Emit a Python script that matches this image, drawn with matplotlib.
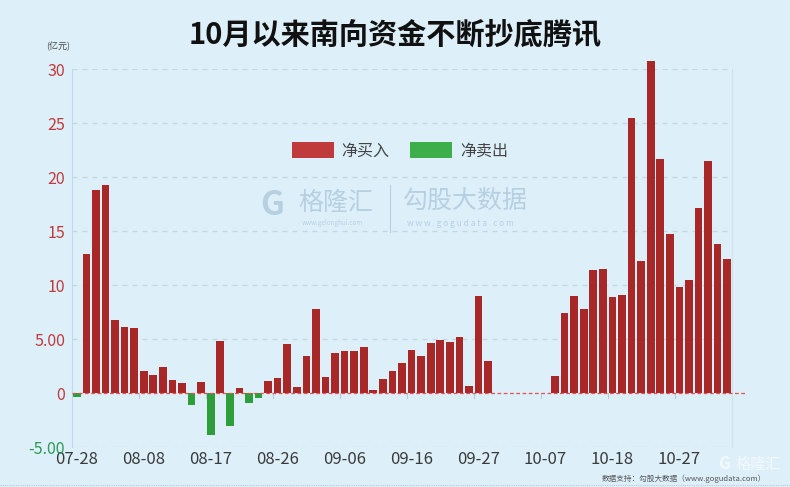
import matplotlib
matplotlib.use("Agg")
import matplotlib.pyplot as plt
from matplotlib.patches import Patch

plt.rcParams["font.family"] = ["Noto Sans CJK SC", "DejaVu Sans"]

#
# Data (亿元, southbound net flow into Tencent)
#

dates = [
    "07-28", "07-29", "08-01", "08-02", "08-03", "08-04", "08-05",
    "08-08", "08-09", "08-10", "08-11", "08-12", "08-15", "08-16",
    "08-17", "08-18", "08-19", "08-22", "08-23", "08-24", "08-25",
    "08-26", "08-29", "08-30", "08-31", "09-01", "09-02", "09-05",
    "09-06", "09-07", "09-08", "09-09", "09-13", "09-14", "09-15",
    "09-16", "09-19", "09-20", "09-21", "09-22", "09-23", "09-26",
    "09-27", "09-28", "09-29", "09-30", "10-03", "10-05", "10-06",
    "10-07", "10-10", "10-11", "10-12", "10-13", "10-14", "10-17",
    "10-18", "10-19", "10-20", "10-21", "10-24", "10-25", "10-26",
    "10-27", "10-28", "10-31", "11-01", "11-02", "11-03",
]
net_flow = [
    -0.35, 12.9, 18.8, 19.3, 6.8, 6.1, 6.0,
    2.0, 1.65, 2.4, 1.25, 0.95, -1.15, 1.05,
    -3.85, 4.8, -3.1, 0.45, -0.9, -0.45, 1.1,
    1.4, 4.55, 0.55, 3.4, 7.8, 1.5, 3.7,
    3.85, 3.85, 4.3, 0.3, 1.3, 2.0, 2.8,
    4.0, 3.4, 4.65, 4.9, 4.7, 5.2, 0.65,
    9.0, 3.0, 0, 0, 0, 0, 0,
    0, 1.6, 7.4, 8.95, 7.75, 11.4, 11.5,
    8.85, 9.1, 25.5, 12.2, 30.7, 21.7, 14.7,
    9.85, 10.5, 17.1, 21.5, 13.8, 12.4,
]
tick_every = 7
y_ticks = [-5, 0, 5, 10, 15, 20, 25, 30]
y_labels = ["-5.00", "0", "5.00", "10", "15", "20", "25", "30"]

bg = "#ddf0fa"
red = "#a82828"
green = "#2e9e3c"
label_red = "#c0393b"
label_green = "#2a9a55"

#
# Graph
#

fig = plt.figure(figsize=(7.9, 4.87), dpi=100, facecolor=bg)
ax = fig.add_axes([72 / 790, 1 - 447 / 487, 660 / 790, 378 / 487])
ax.set_facecolor(bg)

x = list(range(len(dates)))
colors = [red if v >= 0 else green for v in net_flow]
ax.bar(x, net_flow, width=0.8, color=colors, zorder=3, clip_on=False)

ax.set_xlim(-0.5, len(dates) - 0.5)
ax.set_ylim(-5, 30)

# grid
for yv in y_ticks:
    if yv != 0:
        ax.axhline(yv, color="#c5d5e2", lw=0.9, ls=(0, (4, 4)), zorder=1)
ax.plot([-0.5, len(dates) + 1.0], [0, 0], color="#e8504f", lw=0.9,
        ls=(0, (3, 2)), zorder=4, clip_on=False)

# category boundary ticks on the zero axis
for k in range(tick_every, len(dates), tick_every):
    ax.plot([k - 0.5, k - 0.5], [0, -0.45], color="#b8c8d6", lw=0.8, zorder=2)

ax.set_xticks(x[::tick_every])
ax.set_xticklabels(dates[::tick_every], fontsize=12, color="#3a3a3a")
ax.tick_params(axis="x", length=0, pad=3)

ax.set_yticks(y_ticks)
ax.set_yticklabels(y_labels, fontsize=11.5)
ax.tick_params(axis="y", length=0, pad=5)
for lbl, yv in zip(ax.get_yticklabels(), y_ticks):
    lbl.set_color(label_green if yv < 0 else label_red)

for side in ["top", "bottom"]:
    ax.spines[side].set_visible(False)
ax.spines["left"].set_color("#c3d6ea")
ax.spines["right"].set_color("#d3dfe8")

# legend
handles = [Patch(facecolor=label_red, label="净买入"),
           Patch(facecolor="#3daf4a", label="净卖出")]
fig.legend(handles=handles, loc="center", bbox_to_anchor=(400 / 790, 1 - 151 / 487),
           ncol=2, frameon=False, fontsize=11.5, handlelength=2.6, handleheight=1.1,
           handletextpad=0.5, columnspacing=1.3, labelcolor="#444444")

# texts
fig.text(0.5, 1 - 35 / 487, "10月以来南向资金不断抄底腾讯", ha="center", va="center",
         fontsize=21, fontweight="bold", color="#111111")
fig.text(58 / 790, 1 - 47 / 487, "(亿元)", ha="center", va="center", fontsize=6.5,
         color="#444444")

# watermark
wm = "#b6d0e2"
fig.text(260 / 790, 1 - 206 / 487, "G", ha="left", va="center", fontsize=24,
         fontweight="bold", color=wm)
fig.text(298 / 790, 1 - 203 / 487, "格隆汇", ha="left", va="center", fontsize=18,
         color=wm)
fig.text(302 / 790, 1 - 223 / 487, "www.gelonghui.com", ha="left", va="center",
         fontsize=4.5, color=wm)
fig.add_artist(plt.Line2D([390 / 790, 390 / 790], [1 - 185 / 487, 1 - 232 / 487],
                          color=wm, lw=0.8))
fig.text(403 / 790, 1 - 201 / 487, "勾股大数据", ha="left", va="center", fontsize=18,
         color=wm)
fig.text(407 / 790, 1 - 223 / 487, "w w w . g o g u d a t a . c o m", ha="left",
         va="center", fontsize=6, color=wm)

# footer
fig.text(602 / 790, 1 - 479 / 487, "数据支持：勾股大数据（www.gogudata.com）",
         ha="left", va="center", fontsize=5.5, color="#555555")
fig.text(718 / 790, 1 - 464 / 487, "G", ha="left", va="center", fontsize=12,
         fontweight="bold", color="#f4f8fb")
fig.text(736 / 790, 1 - 464 / 487, "格隆汇", ha="left", va="center", fontsize=11,
         color="#f4f8fb")
fig.add_artist(plt.Line2D([0, 1], [1 - 485 / 487, 1 - 485 / 487], color="#c0c8d0",
                          lw=0.8, ls=(0, (1, 1))))

fig.savefig("out.png", dpi=100, facecolor=bg)
